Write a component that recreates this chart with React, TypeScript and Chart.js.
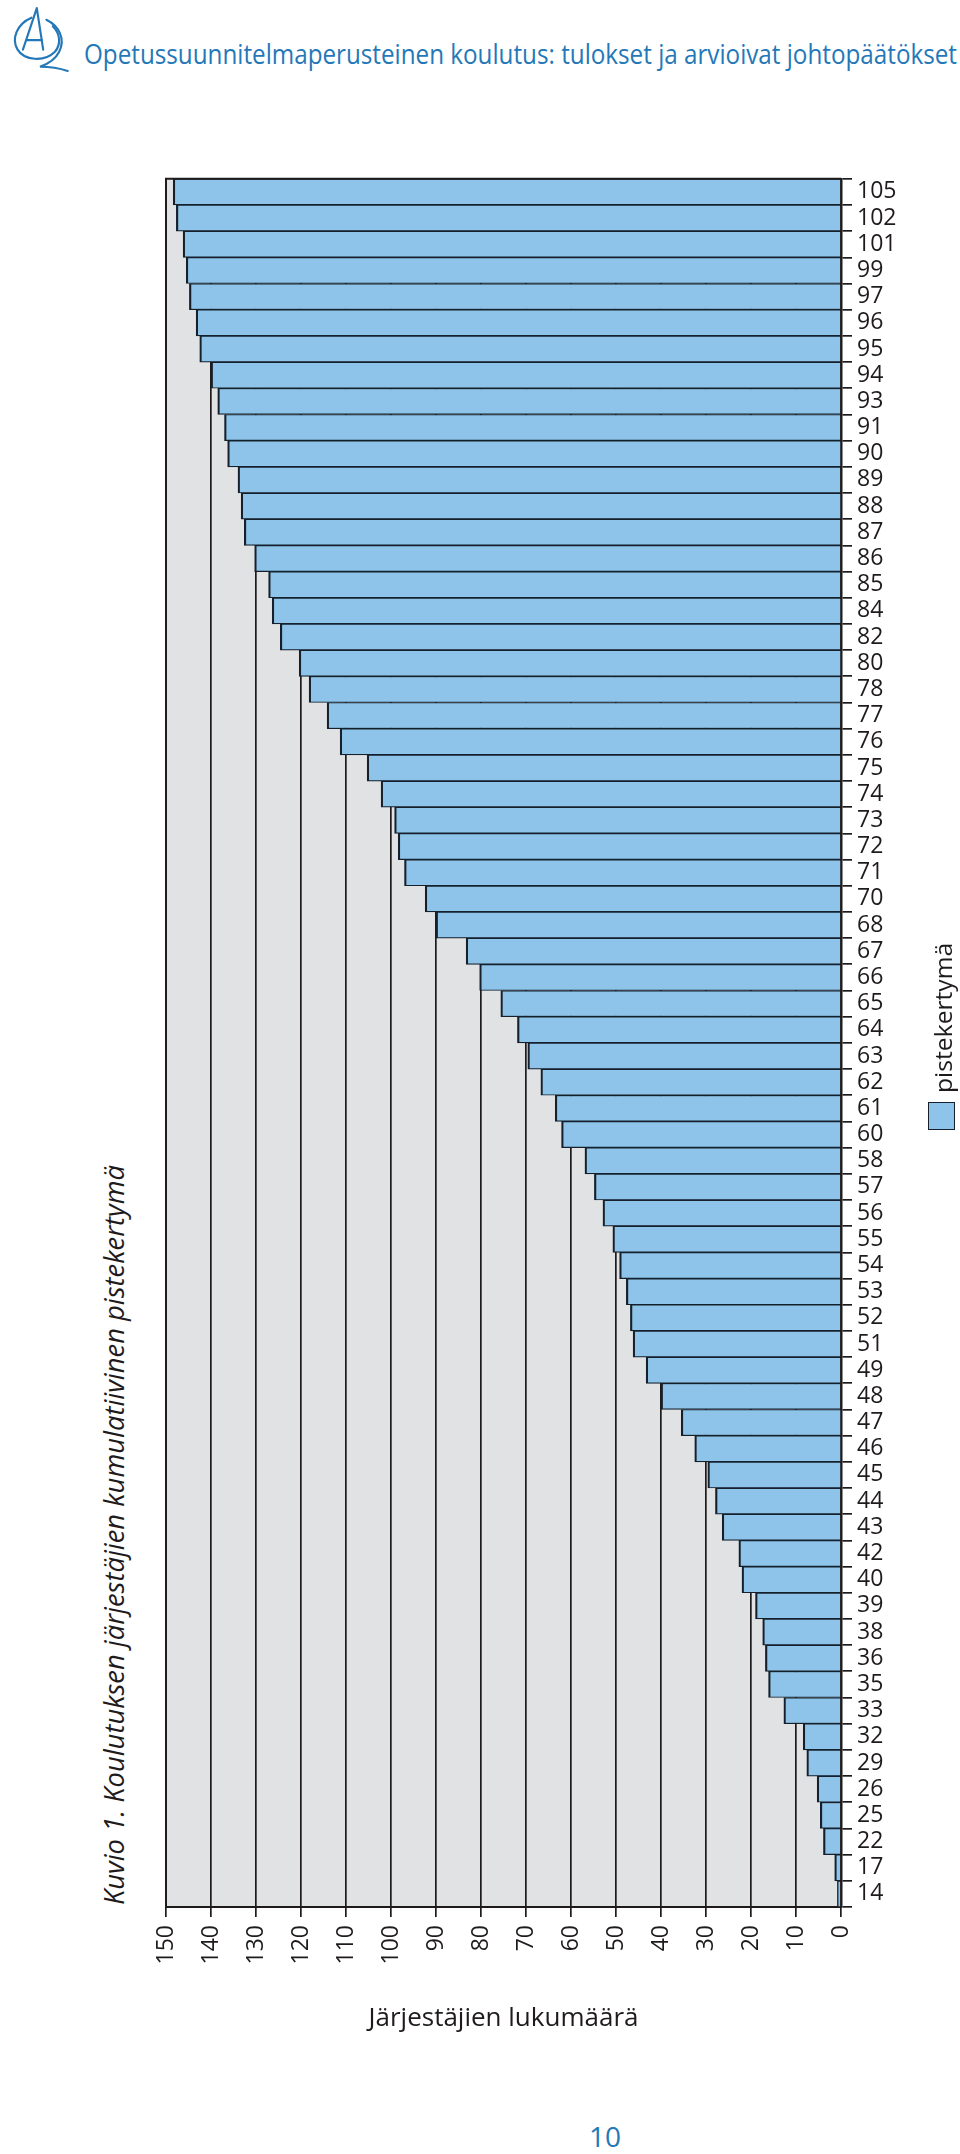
import React, { useEffect, useLayoutEffect, useRef, useState } from 'react';
import { Chart, registerables } from 'chart.js';

Chart.register(...registerables);

// ---------- data ----------
const categories = [
  '105', '102', '101', '99', '97', '96', '95', '94', '93', '91', '90', '89', '88', '87', '86', '85', '84',
  '82', '80', '78', '77', '76', '75', '74', '73', '72', '71', '70', '68', '67', '66', '65', '64', '63',
  '62', '61', '60', '58', '57', '56', '55', '54', '53', '52', '51', '49', '48', '47', '46', '45', '44',
  '43', '42', '40', '39', '38', '36', '35', '33', '32', '29', '26', '25', '22', '17', '14',
];

const cumulativeCounts = [
  148.4, 147.7, 146.2, 145.5, 144.8, 143.3, 142.5, 140, 138.5, 137, 136.3, 134, 133.3, 132.6, 130.3, 127.2, 126.4,
  124.6, 120.4, 118.2, 114.2, 111.3, 105.3, 102.2, 99.2, 98.4, 97, 92.4, 90, 83.3, 80.3, 75.6, 71.9, 69.6,
  66.7, 63.5, 62.1, 56.9, 54.8, 52.9, 50.7, 49.2, 47.7, 46.8, 46.2, 43.3, 40, 35.5, 32.5, 29.6, 27.9,
  26.4, 22.7, 22, 19, 17.4, 16.8, 16.1, 12.7, 8.4, 7.6, 5.3, 4.6, 3.9, 1.4, 0.8,
];

const valueTicks = [0, 10, 20, 30, 40, 50, 60, 70, 80, 90, 100, 110, 120, 130, 140, 150];

const seriesLabel = 'pistekertymä';
const valueAxisTitle = 'Järjestäjien lukumäärä';
const figureTitle = 'Kuvio 1. Koulutuksen järjestäjien kumulatiivinen pistekertymä';
const headerText = 'Opetussuunnitelmaperusteinen koulutus: tulokset ja arvioivat johtopäätökset';
const pageNumber = '10';

// ---------- styles ----------
const INK = '#1f1b1c';
const BLUE = '#2478b8';
const BAR_FILL = '#8ec4ea';
const BAR_EDGE = '#15202c';
const PLOT_BG = '#e1e2e4';
const FONT = "'Open Sans', 'Noto Sans', sans-serif";

Chart.defaults.font.family = FONT;

const plotFrame = {
  id: 'plotFrame',
  beforeDraw(chart: any) {
    const { ctx, chartArea } = chart;
    const { left, top, right, bottom } = chartArea;
    ctx.save();
    ctx.fillStyle = PLOT_BG;
    ctx.fillRect(left, top, right - left, bottom - top);
    ctx.restore();
  },
  afterDatasetsDraw(chart: any) {
    const { ctx, chartArea } = chart;
    const { left, top, right, bottom } = chartArea;
    ctx.save();
    ctx.strokeStyle = INK;
    ctx.lineWidth = 2;
    ctx.beginPath();
    ctx.moveTo(left, bottom);
    ctx.lineTo(left, top);
    ctx.lineTo(right, top);
    ctx.stroke();
    ctx.restore();
  },
};

function useFit(target: number, deps: any[]) {
  const ref = useRef<HTMLSpanElement>(null);
  const [k, setK] = useState(1);
  useLayoutEffect(() => {
    const measure = () => {
      const el = ref.current;
      if (!el) return;
      const w = el.offsetWidth;
      if (w > 0) setK(target / w);
    };
    measure();
    if ((document as any).fonts && (document as any).fonts.ready) {
      (document as any).fonts.ready.then(measure);
    }
  }, deps);
  return [ref, k] as const;
}

function HText(props: { text: string; x: number; y: number; target: number; size: number; color: string; italic?: boolean }) {
  const [ref, k] = useFit(props.target, [props.text, props.target]);
  return (
    <span
      ref={ref}
      style={{
        position: 'absolute', left: props.x, top: props.y, whiteSpace: 'nowrap', lineHeight: 1,
        fontSize: props.size, color: props.color, fontStyle: props.italic ? 'italic' : 'normal',
        transformOrigin: '0 0', transform: `scaleX(${k})`,
      }}
    >
      {props.text}
    </span>
  );
}

function VText(props: { text: string; cx: number; bottom: number; target: number; size: number; color: string; italic?: boolean }) {
  const [ref, k] = useFit(props.target, [props.text, props.target]);
  return (
    <div style={{ position: 'absolute', left: props.cx, top: props.bottom, width: 0, height: 0 }}>
      <span
        ref={ref}
        style={{
          position: 'absolute', left: 0, top: 0, whiteSpace: 'nowrap', lineHeight: 1,
          fontSize: props.size, color: props.color, fontStyle: props.italic ? 'italic' : 'normal',
          transformOrigin: '0 0', transform: `rotate(-90deg) translateY(-50%) scaleX(${k})`,
        }}
      >
        {props.text}
      </span>
    </div>
  );
}

function Logo() {
  return (
    <svg width={64} height={70} viewBox="0 0 60 64" style={{ position: 'absolute', left: 8, top: 4 }}>
      <g fill="none" stroke={BLUE} strokeWidth={2} strokeLinecap="round">
        <path d="M27 3 L14 42 M27 3 L33 42 M17 33 L32 33" />
        <path d="M22 12 C8 18 3 32 9 42 C15 52 34 54 44 44 C50 37 49 27 42 20" />
        <path d="M36 14 C48 20 54 32 48 44 C44 52 36 56 30 58 C40 58 50 60 56 62" />
      </g>
    </svg>
  );
}

export default function App() {
  const canvasRef = useRef<HTMLCanvasElement>(null);

  useEffect(() => {
    const canvas = canvasRef.current;
    if (!canvas) return;
    const chart = new Chart(canvas, {
      type: 'bar',
      data: {
        labels: categories,
        datasets: [
          {
            label: seriesLabel,
            data: cumulativeCounts,
            backgroundColor: BAR_FILL,
            borderColor: BAR_EDGE,
            borderWidth: { top: 1.2, bottom: 1.2, left: 2.2, right: 0 },
            borderSkipped: false,
            barPercentage: 1,
            categoryPercentage: 1,
          },
        ],
      },
      options: {
        indexAxis: 'y',
        animation: false,
        responsive: false,
        maintainAspectRatio: false,
        layout: { padding: { left: 16, top: 18, right: 0, bottom: 0 } },
        plugins: { legend: { display: false }, tooltip: { enabled: false }, title: { display: false } },
        scales: {
          x: {
            type: 'linear',
            position: 'bottom',
            reverse: true,
            min: 0,
            max: 150,
            afterBuildTicks: (s: any) => {
              s.ticks = valueTicks.map((v) => ({ value: v }));
            },
            afterFit: (s: any) => {
              s.height = 153;
            },
            grid: { color: INK, lineWidth: 1.7, tickLength: 10, drawOnChartArea: true },
            border: { display: true, color: INK, width: 2 },
            ticks: { minRotation: 90, maxRotation: 90, autoSkip: false, padding: 8, color: INK, font: { size: 23 } },
            title: { display: true, text: valueAxisTitle, color: INK, font: { size: 26 }, padding: { top: 0, bottom: 26 } },
          },
          y: {
            type: 'category',
            position: 'right',
            offset: true,
            afterFit: (s: any) => {
              s.width = 109;
            },
            grid: { offset: true, drawOnChartArea: false, tickLength: 11, color: INK, lineWidth: 1.7 },
            border: { display: true, color: INK, width: 2.5 },
            ticks: { autoSkip: false, padding: 5, color: INK, font: { size: 23 } },
          },
        },
      },
      plugins: [plotFrame],
    } as any);
    return () => chart.destroy();
  }, []);

  return (
    <div
      style={{
        position: 'absolute', left: 0, top: 0, width: 960, height: 2154, background: '#fff',
        overflow: 'hidden', fontFamily: FONT,
      }}
    >
      <Logo />
      <HText text={headerText} x={84} y={40} target={873} size={27} color={BLUE} />
      <canvas
        ref={canvasRef}
        width={800}
        height={1900}
        style={{ position: 'absolute', left: 150, top: 160, width: 800, height: 1900 }}
      />
      <VText text={figureTitle} cx={113} bottom={1905} target={740} size={28} color={INK} italic />
      <div
        style={{
          position: 'absolute', left: 928, top: 1102, width: 27, height: 28, boxSizing: 'border-box',
          background: BAR_FILL, border: `1.5px solid ${BAR_EDGE}`,
        }}
      />
      <VText text={seriesLabel} cx={943} bottom={1093} target={150} size={24} color={INK} />
      <div
        style={{
          position: 'absolute', left: 0, width: 1210, top: 2122, textAlign: 'center', fontSize: 28,
          lineHeight: 1, color: BLUE,
        }}
      >
        {pageNumber}
      </div>
    </div>
  );
}
